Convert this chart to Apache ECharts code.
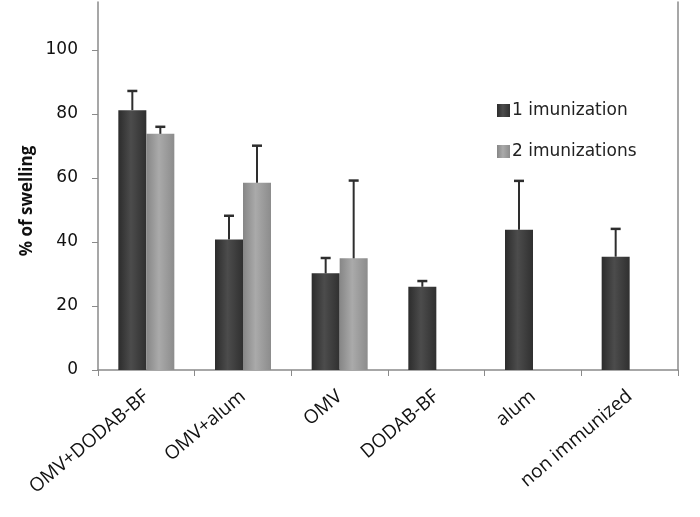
<!DOCTYPE html>
<html><head><meta charset="utf-8">
<script src="https://cdn.jsdelivr.net/npm/echarts@6/dist/echarts.min.js"></script>
<style>html,body{margin:0;padding:0;background:#fff}#c{width:700px;height:517px}</style>
</head><body><div id="c"></div>
<script>
const categories = ['OMV+DODAB-BF','OMV+alum','OMV','DODAB-BF','alum','non immunized'];
const series1Name = '1 imunization';
const series2Name = '2 imunizations';
const values1 = [81.2, 40.8, 30.2, 26.0, 43.8, 35.4];
const errors1 = [6.0, 7.4, 4.8, 1.8, 15.3, 8.7];
const values2 = [73.8, 58.5, 34.9, null, null, null];
const errors2 = [2.2, 11.6, 24.3, null, null, null];
const yTicks = [0, 20, 40, 60, 80, 100];
const yTitle = '% of swelling';

const chart = echarts.init(document.getElementById('c'));
const barW = 28;
function errSeries(vals, errs, offset) {
  const data = [];
  vals.forEach((v, i) => { if (v != null) data.push([i, v, v + errs[i]]); });
  return {
    type: 'custom', z: 10,
    data: data,
    renderItem: function (params, api) {
      const i = api.value(0);
      const p0 = api.coord([i, api.value(1)]);
      const p1 = api.coord([i, api.value(2)]);
      const x = p0[0] + offset;
      return {type: 'group', children: [
        {type: 'line', shape: {x1: x, y1: p0[1], x2: x, y2: p1[1]}, style: {stroke: '#2e2e2e', lineWidth: 2}},
        {type: 'line', shape: {x1: x - 5, y1: p1[1], x2: x + 5, y2: p1[1]}, style: {stroke: '#2e2e2e', lineWidth: 2.5}}
      ]};
    }
  };
}
const darkGrad = new echarts.graphic.LinearGradient(0,0,1,0,[{offset:0,color:'#2c2c2c'},{offset:0.45,color:'#4c4c4c'},{offset:1,color:'#303030'}]);
const lightGrad = new echarts.graphic.LinearGradient(0,0,1,0,[{offset:0,color:'#868686'},{offset:0.45,color:'#aaaaaa'},{offset:1,color:'#8c8c8c'}]);
chart.setOption({
  animation: false,
  backgroundColor: '#fff',
  grid: {left: 98, right: 22, top: 2, bottom: 147},
  legend: {
    orient: 'vertical', left: 492, top: 97, itemGap: 24,
    itemWidth: 13, itemHeight: 13, icon: 'rect',
    textStyle: {fontFamily: 'DejaVu Sans', fontSize: 17, color: '#222', padding: [0,0,0,-3]},
    data: [series1Name, series2Name]
  },
  graphic: [{
    type: 'text',
    x: 27, y: 201,
    rotation: Math.PI / 2,
    style: {text: yTitle, font: 'bold 17px "Open Sans"', fill: '#111', align: 'center', verticalAlign: 'middle'}
  }],
  xAxis: {
    type: 'category', data: categories,
    axisLine: {lineStyle: {color: '#8a8a8a', width: 1.5}},
    axisTick: {show: true, length: 6, lineStyle: {color: '#8a8a8a'}},
    axisLabel: {rotate: 40, interval: 0, fontFamily: 'Open Sans', fontSize: 19, color: '#111', margin: 24}
  },
  yAxis: [{
    type: 'value', min: 0, max: 115, interval: 20,
    axisLine: {show: true, lineStyle: {color: '#8a8a8a', width: 1.5}},
    axisTick: {show: true, length: 6, customValues: yTicks, lineStyle: {color: '#8a8a8a'}},
    axisLabel: {customValues: yTicks, fontFamily: 'DejaVu Sans', fontSize: 17, color: '#111', margin: 20},
    splitLine: {show: false}
  }, {
    type: 'value', min: 0, max: 115, position: 'right',
    axisLine: {show: true, lineStyle: {color: '#8a8a8a', width: 1.5}},
    axisTick: {show: false}, axisLabel: {show: false}, splitLine: {show: false}
  }],
  series: [
    {name: series1Name, type: 'bar', data: values1, barWidth: barW, barGap: '0%',
     itemStyle: {color: darkGrad}},
    {name: series2Name, type: 'bar', data: values2, barWidth: barW, barGap: '0%',
     itemStyle: {color: lightGrad}},
    errSeries(values1, errors1, -barW / 2),
    errSeries(values2, errors2, barW / 2)
  ]
});
</script></body></html>
